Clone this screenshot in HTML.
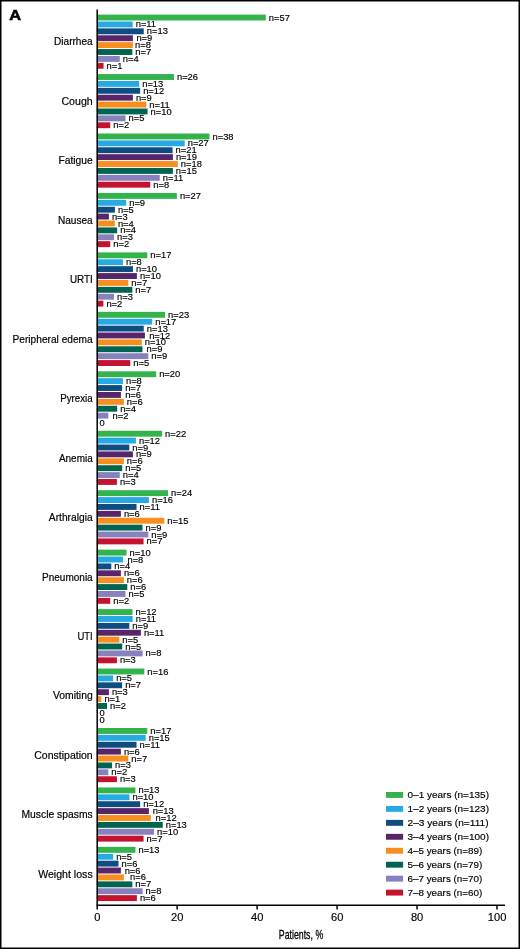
<!DOCTYPE html>
<html><head><meta charset="utf-8"><title>Figure A</title>
<style>
html,body{margin:0;padding:0;background:#fff;}
body{width:520px;height:949px;overflow:hidden;}
svg{display:block;}
text{font-family:"Liberation Sans",sans-serif;fill:#000;stroke:#000;stroke-width:0.15px;}
.n{font-size:8.6px;}
.c{font-size:11.3px;text-anchor:end;stroke:#000;stroke-width:0.2px;}
.t{font-size:10.5px;text-anchor:middle;}
.l{font-size:9.4px;}
.p{font-size:13px;text-anchor:middle;stroke:#000;stroke-width:0.3px;}
.A{font-size:15.5px;font-weight:bold;stroke:#000;stroke-width:0.6px;}
</style></head><body>
<svg width="520" height="949" viewBox="0 0 520 949">
<rect x="0" y="0" width="520" height="949" fill="#fff"/>
<rect x="0.75" y="0.75" width="518.5" height="947.5" fill="none" stroke="#000" stroke-width="1.5"/>
<text class="A" transform="translate(9.3 20.4) scale(1.06 1)">A</text>
<text class="c" transform="translate(92.7 45.48) scale(0.8941 1)">Diarrhea</text>
<rect x="96.9" y="14.60" width="168.89" height="5.9" fill="#33B34A"/><text class="n" transform="translate(268.79 20.60) scale(1.09 1)">n=57</text>
<rect x="96.9" y="21.49" width="35.77" height="5.9" fill="#27AAE1"/><text class="n" transform="translate(135.67 27.49) scale(1.09 1)">n=11</text>
<rect x="96.9" y="28.39" width="46.85" height="5.9" fill="#0F4C81"/><text class="n" transform="translate(146.75 34.39) scale(1.09 1)">n=13</text>
<rect x="96.9" y="35.28" width="36.00" height="5.9" fill="#58256B"/><text class="n" transform="translate(136.40 41.28) scale(1.09 1)">n=9</text>
<rect x="96.9" y="42.17" width="35.96" height="5.9" fill="#F78F1E"/><text class="n" transform="translate(135.11 48.17) scale(1.09 1)">n=8</text>
<rect x="96.9" y="49.06" width="35.44" height="5.9" fill="#006450"/><text class="n" transform="translate(135.34 55.06) scale(1.09 1)">n=7</text>
<rect x="96.9" y="55.96" width="22.86" height="5.9" fill="#8781BD"/><text class="n" transform="translate(122.76 61.96) scale(1.09 1)">n=4</text>
<rect x="96.9" y="62.85" width="6.67" height="5.9" fill="#C4122F"/><text class="n" transform="translate(106.57 68.85) scale(1.09 1)">n=1</text>
<text class="c" transform="translate(92.7 104.93) scale(0.9394 1)">Cough</text>
<rect x="96.9" y="74.05" width="77.04" height="5.9" fill="#33B34A"/><text class="n" transform="translate(176.94 80.05) scale(1.09 1)">n=26</text>
<rect x="96.9" y="80.94" width="42.28" height="5.9" fill="#27AAE1"/><text class="n" transform="translate(142.18 86.94) scale(1.09 1)">n=13</text>
<rect x="96.9" y="87.84" width="43.24" height="5.9" fill="#0F4C81"/><text class="n" transform="translate(143.14 93.84) scale(1.09 1)">n=12</text>
<rect x="96.9" y="94.73" width="36.00" height="5.9" fill="#58256B"/><text class="n" transform="translate(135.90 100.73) scale(1.09 1)">n=9</text>
<rect x="96.9" y="101.62" width="49.44" height="5.9" fill="#F78F1E"/><text class="n" transform="translate(149.34 107.62) scale(1.09 1)">n=11</text>
<rect x="96.9" y="108.51" width="50.63" height="5.9" fill="#006450"/><text class="n" transform="translate(150.53 114.51) scale(1.09 1)">n=10</text>
<rect x="96.9" y="115.41" width="28.57" height="5.9" fill="#8781BD"/><text class="n" transform="translate(128.47 121.41) scale(1.09 1)">n=5</text>
<rect x="96.9" y="122.30" width="13.33" height="5.9" fill="#C4122F"/><text class="n" transform="translate(113.23 128.30) scale(1.09 1)">n=2</text>
<text class="c" transform="translate(92.7 164.38) scale(0.9113 1)">Fatigue</text>
<rect x="96.9" y="133.50" width="112.59" height="5.9" fill="#33B34A"/><text class="n" transform="translate(212.49 139.50) scale(1.09 1)">n=38</text>
<rect x="96.9" y="140.39" width="87.80" height="5.9" fill="#27AAE1"/><text class="n" transform="translate(187.70 146.39) scale(1.09 1)">n=27</text>
<rect x="96.9" y="147.29" width="75.68" height="5.9" fill="#0F4C81"/><text class="n" transform="translate(175.58 153.29) scale(1.09 1)">n=21</text>
<rect x="96.9" y="154.18" width="76.00" height="5.9" fill="#58256B"/><text class="n" transform="translate(175.90 160.18) scale(1.09 1)">n=19</text>
<rect x="96.9" y="161.07" width="80.90" height="5.9" fill="#F78F1E"/><text class="n" transform="translate(180.80 167.07) scale(1.09 1)">n=18</text>
<rect x="96.9" y="167.97" width="75.95" height="5.9" fill="#006450"/><text class="n" transform="translate(175.85 173.97) scale(1.09 1)">n=15</text>
<rect x="96.9" y="174.86" width="62.86" height="5.9" fill="#8781BD"/><text class="n" transform="translate(162.76 180.86) scale(1.09 1)">n=11</text>
<rect x="96.9" y="181.75" width="53.33" height="5.9" fill="#C4122F"/><text class="n" transform="translate(153.23 187.75) scale(1.09 1)">n=8</text>
<text class="c" transform="translate(92.7 223.83) scale(0.8932 1)">Nausea</text>
<rect x="96.9" y="192.95" width="80.00" height="5.9" fill="#33B34A"/><text class="n" transform="translate(179.90 198.95) scale(1.09 1)">n=27</text>
<rect x="96.9" y="199.84" width="29.27" height="5.9" fill="#27AAE1"/><text class="n" transform="translate(129.17 205.84) scale(1.09 1)">n=9</text>
<rect x="96.9" y="206.74" width="18.02" height="5.9" fill="#0F4C81"/><text class="n" transform="translate(117.92 212.74) scale(1.09 1)">n=5</text>
<rect x="96.9" y="213.63" width="12.00" height="5.9" fill="#58256B"/><text class="n" transform="translate(111.90 219.63) scale(1.09 1)">n=3</text>
<rect x="96.9" y="220.52" width="17.98" height="5.9" fill="#F78F1E"/><text class="n" transform="translate(117.88 226.52) scale(1.09 1)">n=4</text>
<rect x="96.9" y="227.42" width="20.25" height="5.9" fill="#006450"/><text class="n" transform="translate(120.15 233.42) scale(1.09 1)">n=4</text>
<rect x="96.9" y="234.31" width="17.14" height="5.9" fill="#8781BD"/><text class="n" transform="translate(117.04 240.31) scale(1.09 1)">n=3</text>
<rect x="96.9" y="241.20" width="13.33" height="5.9" fill="#C4122F"/><text class="n" transform="translate(113.23 247.20) scale(1.09 1)">n=2</text>
<text class="c" transform="translate(92.7 283.28) scale(0.8697 1)">URTI</text>
<rect x="96.9" y="252.40" width="50.37" height="5.9" fill="#33B34A"/><text class="n" transform="translate(150.27 258.40) scale(1.09 1)">n=17</text>
<rect x="96.9" y="259.29" width="26.02" height="5.9" fill="#27AAE1"/><text class="n" transform="translate(125.92 265.29) scale(1.09 1)">n=8</text>
<rect x="96.9" y="266.19" width="36.04" height="5.9" fill="#0F4C81"/><text class="n" transform="translate(135.94 272.19) scale(1.09 1)">n=10</text>
<rect x="96.9" y="273.08" width="40.00" height="5.9" fill="#58256B"/><text class="n" transform="translate(139.90 279.08) scale(1.09 1)">n=10</text>
<rect x="96.9" y="279.97" width="31.46" height="5.9" fill="#F78F1E"/><text class="n" transform="translate(131.36 285.97) scale(1.09 1)">n=7</text>
<rect x="96.9" y="286.87" width="35.44" height="5.9" fill="#006450"/><text class="n" transform="translate(135.34 292.87) scale(1.09 1)">n=7</text>
<rect x="96.9" y="293.76" width="17.14" height="5.9" fill="#8781BD"/><text class="n" transform="translate(117.04 299.76) scale(1.09 1)">n=3</text>
<rect x="96.9" y="300.65" width="6.48" height="5.9" fill="#C4122F"/><text class="n" transform="translate(106.38 306.65) scale(1.09 1)">n=2</text>
<text class="c" transform="translate(92.7 342.73) scale(0.8996 1)">Peripheral edema</text>
<rect x="96.9" y="311.85" width="68.15" height="5.9" fill="#33B34A"/><text class="n" transform="translate(168.05 317.85) scale(1.09 1)">n=23</text>
<rect x="96.9" y="318.74" width="55.28" height="5.9" fill="#27AAE1"/><text class="n" transform="translate(155.18 324.74) scale(1.09 1)">n=17</text>
<rect x="96.9" y="325.64" width="46.85" height="5.9" fill="#0F4C81"/><text class="n" transform="translate(146.75 331.64) scale(1.09 1)">n=13</text>
<rect x="96.9" y="332.53" width="48.00" height="5.9" fill="#58256B"/><text class="n" transform="translate(149.15 338.53) scale(1.09 1)">n=12</text>
<rect x="96.9" y="339.42" width="44.94" height="5.9" fill="#F78F1E"/><text class="n" transform="translate(144.84 345.42) scale(1.09 1)">n=10</text>
<rect x="96.9" y="346.31" width="45.57" height="5.9" fill="#006450"/><text class="n" transform="translate(146.47 352.31) scale(1.09 1)">n=9</text>
<rect x="96.9" y="353.21" width="51.43" height="5.9" fill="#8781BD"/><text class="n" transform="translate(151.33 359.21) scale(1.09 1)">n=9</text>
<rect x="96.9" y="360.10" width="33.33" height="5.9" fill="#C4122F"/><text class="n" transform="translate(133.23 366.10) scale(1.09 1)">n=5</text>
<text class="c" transform="translate(92.7 402.18) scale(0.8625 1)">Pyrexia</text>
<rect x="96.9" y="371.30" width="59.26" height="5.9" fill="#33B34A"/><text class="n" transform="translate(159.16 377.30) scale(1.09 1)">n=20</text>
<rect x="96.9" y="378.19" width="26.02" height="5.9" fill="#27AAE1"/><text class="n" transform="translate(125.92 384.19) scale(1.09 1)">n=8</text>
<rect x="96.9" y="385.09" width="25.23" height="5.9" fill="#0F4C81"/><text class="n" transform="translate(125.13 391.09) scale(1.09 1)">n=7</text>
<rect x="96.9" y="391.98" width="24.00" height="5.9" fill="#58256B"/><text class="n" transform="translate(125.15 397.98) scale(1.09 1)">n=6</text>
<rect x="96.9" y="398.87" width="26.97" height="5.9" fill="#F78F1E"/><text class="n" transform="translate(126.87 404.87) scale(1.09 1)">n=6</text>
<rect x="96.9" y="405.77" width="20.25" height="5.9" fill="#006450"/><text class="n" transform="translate(120.15 411.77) scale(1.09 1)">n=4</text>
<rect x="96.9" y="412.66" width="11.43" height="5.9" fill="#8781BD"/><text class="n" transform="translate(112.58 418.66) scale(1.09 1)">n=2</text>
<text class="n" transform="translate(99.50 425.55) scale(1.09 1)">0</text>
<text class="c" transform="translate(92.7 461.63) scale(0.8815 1)">Anemia</text>
<rect x="96.9" y="430.75" width="65.19" height="5.9" fill="#33B34A"/><text class="n" transform="translate(165.09 436.75) scale(1.09 1)">n=22</text>
<rect x="96.9" y="437.64" width="39.02" height="5.9" fill="#27AAE1"/><text class="n" transform="translate(138.92 443.64) scale(1.09 1)">n=12</text>
<rect x="96.9" y="444.54" width="32.43" height="5.9" fill="#0F4C81"/><text class="n" transform="translate(132.33 450.54) scale(1.09 1)">n=9</text>
<rect x="96.9" y="451.43" width="36.00" height="5.9" fill="#58256B"/><text class="n" transform="translate(135.90 457.43) scale(1.09 1)">n=9</text>
<rect x="96.9" y="458.32" width="26.97" height="5.9" fill="#F78F1E"/><text class="n" transform="translate(126.87 464.32) scale(1.09 1)">n=6</text>
<rect x="96.9" y="465.22" width="25.32" height="5.9" fill="#006450"/><text class="n" transform="translate(125.22 471.22) scale(1.09 1)">n=5</text>
<rect x="96.9" y="472.11" width="22.86" height="5.9" fill="#8781BD"/><text class="n" transform="translate(122.76 478.11) scale(1.09 1)">n=4</text>
<rect x="96.9" y="479.00" width="20.00" height="5.9" fill="#C4122F"/><text class="n" transform="translate(119.90 485.00) scale(1.09 1)">n=3</text>
<text class="c" transform="translate(92.7 521.08) scale(0.9086 1)">Arthralgia</text>
<rect x="96.9" y="490.20" width="71.11" height="5.9" fill="#33B34A"/><text class="n" transform="translate(171.01 496.20) scale(1.09 1)">n=24</text>
<rect x="96.9" y="497.09" width="52.03" height="5.9" fill="#27AAE1"/><text class="n" transform="translate(151.93 503.09) scale(1.09 1)">n=16</text>
<rect x="96.9" y="503.99" width="39.64" height="5.9" fill="#0F4C81"/><text class="n" transform="translate(139.54 509.99) scale(1.09 1)">n=11</text>
<rect x="96.9" y="510.88" width="24.00" height="5.9" fill="#58256B"/><text class="n" transform="translate(123.90 516.88) scale(1.09 1)">n=6</text>
<rect x="96.9" y="517.77" width="67.42" height="5.9" fill="#F78F1E"/><text class="n" transform="translate(167.32 523.77) scale(1.09 1)">n=15</text>
<rect x="96.9" y="524.67" width="45.57" height="5.9" fill="#006450"/><text class="n" transform="translate(145.47 530.67) scale(1.09 1)">n=9</text>
<rect x="96.9" y="531.56" width="51.43" height="5.9" fill="#8781BD"/><text class="n" transform="translate(151.33 537.56) scale(1.09 1)">n=9</text>
<rect x="96.9" y="538.45" width="46.67" height="5.9" fill="#C4122F"/><text class="n" transform="translate(146.57 544.45) scale(1.09 1)">n=7</text>
<text class="c" transform="translate(92.7 580.53) scale(0.8878 1)">Pneumonia</text>
<rect x="96.9" y="549.65" width="29.63" height="5.9" fill="#33B34A"/><text class="n" transform="translate(129.53 555.65) scale(1.09 1)">n=10</text>
<rect x="96.9" y="556.54" width="26.02" height="5.9" fill="#27AAE1"/><text class="n" transform="translate(127.42 562.54) scale(1.09 1)">n=8</text>
<rect x="96.9" y="563.44" width="14.41" height="5.9" fill="#0F4C81"/><text class="n" transform="translate(114.31 569.44) scale(1.09 1)">n=4</text>
<rect x="96.9" y="570.33" width="24.00" height="5.9" fill="#58256B"/><text class="n" transform="translate(123.90 576.33) scale(1.09 1)">n=6</text>
<rect x="96.9" y="577.22" width="26.97" height="5.9" fill="#F78F1E"/><text class="n" transform="translate(126.87 583.22) scale(1.09 1)">n=6</text>
<rect x="96.9" y="584.12" width="30.38" height="5.9" fill="#006450"/><text class="n" transform="translate(130.28 590.12) scale(1.09 1)">n=6</text>
<rect x="96.9" y="591.01" width="28.57" height="5.9" fill="#8781BD"/><text class="n" transform="translate(128.47 597.01) scale(1.09 1)">n=5</text>
<rect x="96.9" y="597.90" width="13.33" height="5.9" fill="#C4122F"/><text class="n" transform="translate(113.23 603.90) scale(1.09 1)">n=2</text>
<text class="c" transform="translate(92.7 639.98) scale(0.8380 1)">UTI</text>
<rect x="96.9" y="609.10" width="35.56" height="5.9" fill="#33B34A"/><text class="n" transform="translate(135.46 615.10) scale(1.09 1)">n=12</text>
<rect x="96.9" y="615.99" width="35.77" height="5.9" fill="#27AAE1"/><text class="n" transform="translate(135.67 621.99) scale(1.09 1)">n=11</text>
<rect x="96.9" y="622.89" width="32.43" height="5.9" fill="#0F4C81"/><text class="n" transform="translate(132.33 628.89) scale(1.09 1)">n=9</text>
<rect x="96.9" y="629.78" width="44.00" height="5.9" fill="#58256B"/><text class="n" transform="translate(143.90 635.78) scale(1.09 1)">n=11</text>
<rect x="96.9" y="636.67" width="22.47" height="5.9" fill="#F78F1E"/><text class="n" transform="translate(122.37 642.67) scale(1.09 1)">n=5</text>
<rect x="96.9" y="643.57" width="25.32" height="5.9" fill="#006450"/><text class="n" transform="translate(125.22 649.57) scale(1.09 1)">n=5</text>
<rect x="96.9" y="650.46" width="45.71" height="5.9" fill="#8781BD"/><text class="n" transform="translate(145.61 656.46) scale(1.09 1)">n=8</text>
<rect x="96.9" y="657.35" width="20.00" height="5.9" fill="#C4122F"/><text class="n" transform="translate(119.90 663.35) scale(1.09 1)">n=3</text>
<text class="c" transform="translate(92.7 699.43) scale(0.9195 1)">Vomiting</text>
<rect x="96.9" y="668.55" width="47.41" height="5.9" fill="#33B34A"/><text class="n" transform="translate(147.31 674.55) scale(1.09 1)">n=16</text>
<rect x="96.9" y="675.44" width="16.26" height="5.9" fill="#27AAE1"/><text class="n" transform="translate(116.16 681.44) scale(1.09 1)">n=5</text>
<rect x="96.9" y="682.34" width="25.23" height="5.9" fill="#0F4C81"/><text class="n" transform="translate(125.13 688.34) scale(1.09 1)">n=7</text>
<rect x="96.9" y="689.23" width="12.00" height="5.9" fill="#58256B"/><text class="n" transform="translate(111.90 695.23) scale(1.09 1)">n=3</text>
<rect x="96.9" y="696.12" width="4.49" height="5.9" fill="#F78F1E"/><text class="n" transform="translate(104.39 702.12) scale(1.09 1)">n=1</text>
<rect x="96.9" y="703.02" width="10.13" height="5.9" fill="#006450"/><text class="n" transform="translate(110.03 709.02) scale(1.09 1)">n=2</text>
<text class="n" transform="translate(99.50 715.91) scale(1.09 1)">0</text>
<text class="n" transform="translate(99.50 722.80) scale(1.09 1)">0</text>
<text class="c" transform="translate(92.7 758.88) scale(0.9322 1)">Constipation</text>
<rect x="96.9" y="728.00" width="50.37" height="5.9" fill="#33B34A"/><text class="n" transform="translate(150.27 734.00) scale(1.09 1)">n=17</text>
<rect x="96.9" y="734.89" width="48.78" height="5.9" fill="#27AAE1"/><text class="n" transform="translate(148.68 740.89) scale(1.09 1)">n=15</text>
<rect x="96.9" y="741.79" width="39.64" height="5.9" fill="#0F4C81"/><text class="n" transform="translate(139.54 747.79) scale(1.09 1)">n=11</text>
<rect x="96.9" y="748.68" width="24.00" height="5.9" fill="#58256B"/><text class="n" transform="translate(123.90 754.68) scale(1.09 1)">n=6</text>
<rect x="96.9" y="755.57" width="31.46" height="5.9" fill="#F78F1E"/><text class="n" transform="translate(131.36 761.57) scale(1.09 1)">n=7</text>
<rect x="96.9" y="762.47" width="15.19" height="5.9" fill="#006450"/><text class="n" transform="translate(115.09 768.47) scale(1.09 1)">n=3</text>
<rect x="96.9" y="769.36" width="11.43" height="5.9" fill="#8781BD"/><text class="n" transform="translate(111.33 775.36) scale(1.09 1)">n=2</text>
<rect x="96.9" y="776.25" width="20.00" height="5.9" fill="#C4122F"/><text class="n" transform="translate(119.90 782.25) scale(1.09 1)">n=3</text>
<text class="c" transform="translate(92.7 818.33) scale(0.9159 1)">Muscle spasms</text>
<rect x="96.9" y="787.45" width="38.52" height="5.9" fill="#33B34A"/><text class="n" transform="translate(138.42 793.45) scale(1.09 1)">n=13</text>
<rect x="96.9" y="794.34" width="32.52" height="5.9" fill="#27AAE1"/><text class="n" transform="translate(132.42 800.34) scale(1.09 1)">n=10</text>
<rect x="96.9" y="801.24" width="43.24" height="5.9" fill="#0F4C81"/><text class="n" transform="translate(143.14 807.24) scale(1.09 1)">n=12</text>
<rect x="96.9" y="808.13" width="52.00" height="5.9" fill="#58256B"/><text class="n" transform="translate(152.65 814.13) scale(1.09 1)">n=13</text>
<rect x="96.9" y="815.02" width="53.93" height="5.9" fill="#F78F1E"/><text class="n" transform="translate(155.58 821.02) scale(1.09 1)">n=12</text>
<rect x="96.9" y="821.92" width="65.82" height="5.9" fill="#006450"/><text class="n" transform="translate(165.72 827.92) scale(1.09 1)">n=13</text>
<rect x="96.9" y="828.81" width="57.14" height="5.9" fill="#8781BD"/><text class="n" transform="translate(157.04 834.81) scale(1.09 1)">n=10</text>
<rect x="96.9" y="835.70" width="46.67" height="5.9" fill="#C4122F"/><text class="n" transform="translate(146.57 841.70) scale(1.09 1)">n=7</text>
<text class="c" transform="translate(92.7 877.78) scale(0.9385 1)">Weight loss</text>
<rect x="96.9" y="846.90" width="38.52" height="5.9" fill="#33B34A"/><text class="n" transform="translate(138.42 852.90) scale(1.09 1)">n=13</text>
<rect x="96.9" y="853.79" width="16.26" height="5.9" fill="#27AAE1"/><text class="n" transform="translate(116.16 859.79) scale(1.09 1)">n=5</text>
<rect x="96.9" y="860.69" width="21.62" height="5.9" fill="#0F4C81"/><text class="n" transform="translate(121.52 866.69) scale(1.09 1)">n=6</text>
<rect x="96.9" y="867.58" width="24.00" height="5.9" fill="#58256B"/><text class="n" transform="translate(124.65 873.58) scale(1.09 1)">n=6</text>
<rect x="96.9" y="874.47" width="26.97" height="5.9" fill="#F78F1E"/><text class="n" transform="translate(130.12 880.47) scale(1.09 1)">n=6</text>
<rect x="96.9" y="881.37" width="35.44" height="5.9" fill="#006450"/><text class="n" transform="translate(135.34 887.37) scale(1.09 1)">n=7</text>
<rect x="96.9" y="888.26" width="45.71" height="5.9" fill="#8781BD"/><text class="n" transform="translate(145.61 894.26) scale(1.09 1)">n=8</text>
<rect x="96.9" y="895.15" width="40.00" height="5.9" fill="#C4122F"/><text class="n" transform="translate(139.90 901.15) scale(1.09 1)">n=6</text>
<line x1="97.2" y1="9.4" x2="97.2" y2="905.85" stroke="#000" stroke-width="1.5"/>
<line x1="96.55" y1="905.2" x2="505" y2="905.2" stroke="#000" stroke-width="1.5"/>
<line x1="97.20" y1="905.2" x2="97.20" y2="909.6" stroke="#000" stroke-width="1.5"/><text class="t" transform="translate(97.25 921.2) scale(1.06 1)">0</text>
<line x1="177.16" y1="905.2" x2="177.16" y2="909.6" stroke="#000" stroke-width="1.5"/><text class="t" transform="translate(177.21 921.2) scale(1.06 1)">20</text>
<line x1="257.12" y1="905.2" x2="257.12" y2="909.6" stroke="#000" stroke-width="1.5"/><text class="t" transform="translate(257.17 921.2) scale(1.06 1)">40</text>
<line x1="337.08" y1="905.2" x2="337.08" y2="909.6" stroke="#000" stroke-width="1.5"/><text class="t" transform="translate(337.13 921.2) scale(1.06 1)">60</text>
<line x1="417.04" y1="905.2" x2="417.04" y2="909.6" stroke="#000" stroke-width="1.5"/><text class="t" transform="translate(417.09 921.2) scale(1.06 1)">80</text>
<line x1="497.00" y1="905.2" x2="497.00" y2="909.6" stroke="#000" stroke-width="1.5"/><text class="t" transform="translate(497.05 921.2) scale(1.06 1)">100</text>
<text class="p" transform="translate(301 939.3) scale(0.675 1)">Patients, %</text>
<rect x="386" y="792.00" width="17.1" height="5.9" fill="#33B34A"/><text class="l" transform="translate(407.5 798.10) scale(1.065 1)">0–1 years (n=135)</text>
<rect x="386" y="805.95" width="17.1" height="5.9" fill="#27AAE1"/><text class="l" transform="translate(407.5 812.05) scale(1.065 1)">1–2 years (n=123)</text>
<rect x="386" y="819.90" width="17.1" height="5.9" fill="#0F4C81"/><text class="l" transform="translate(407.5 826.00) scale(1.08 1)">2–3 years (n=111)</text>
<rect x="386" y="833.85" width="17.1" height="5.9" fill="#58256B"/><text class="l" transform="translate(407.5 839.95) scale(1.065 1)">3–4 years (n=100)</text>
<rect x="386" y="847.80" width="17.1" height="5.9" fill="#F78F1E"/><text class="l" transform="translate(407.5 853.90) scale(1.051 1)">4–5 years (n=89)</text>
<rect x="386" y="861.75" width="17.1" height="5.9" fill="#006450"/><text class="l" transform="translate(407.5 867.85) scale(1.051 1)">5–6 years (n=79)</text>
<rect x="386" y="875.70" width="17.1" height="5.9" fill="#8781BD"/><text class="l" transform="translate(407.5 881.80) scale(1.051 1)">6–7 years (n=70)</text>
<rect x="386" y="889.65" width="17.1" height="5.9" fill="#C4122F"/><text class="l" transform="translate(407.5 895.75) scale(1.051 1)">7–8 years (n=60)</text>
</svg>
</body></html>
